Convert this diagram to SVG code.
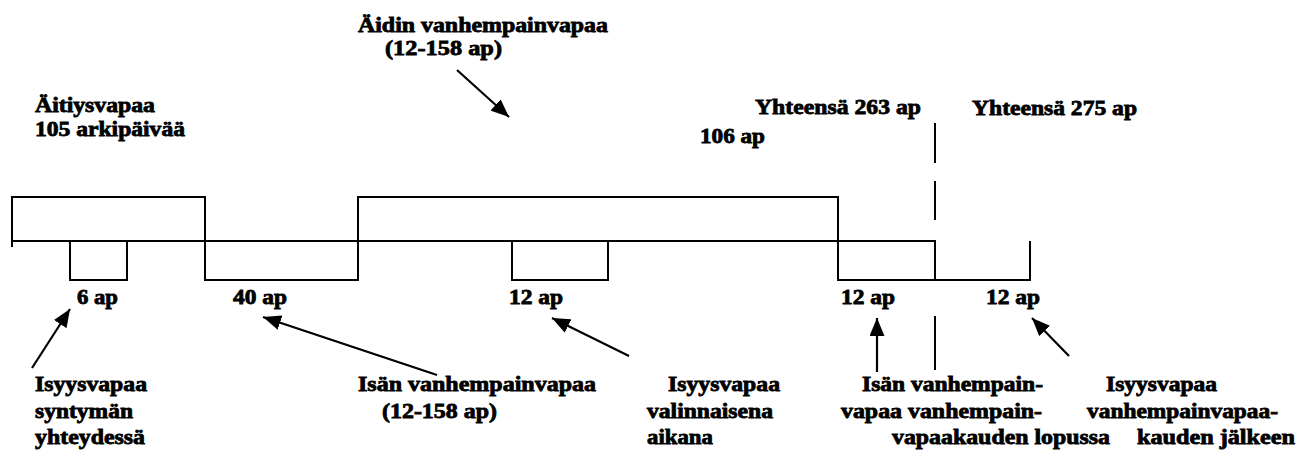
<svg xmlns="http://www.w3.org/2000/svg" width="1311" height="450" viewBox="0 0 1311 450">
<style>
  .t { font-family: "Liberation Serif", "Times New Roman", "DejaVu Serif", serif; font-weight: 700; font-size: 21px; fill: #000; stroke: #000; stroke-width: 0.8; }
  .ln { fill: none; stroke: #000; stroke-width: 2; }
  .ar { fill: none; stroke: #000; stroke-width: 2.2; marker-end: url(#ah); }
</style>
<defs>
  <marker id="ah" markerUnits="userSpaceOnUse" markerWidth="19" markerHeight="15" refX="18" refY="7.5" orient="auto">
    <path d="M0,0 L18,7.5 L0,15 z" fill="#000"/>
  </marker>
</defs>
<rect width="1311" height="450" fill="#fff"/>

<g id="timeline">
  <path class="ln" d="M12,247 L12,197 L205,197 L205,280 L358,280 L358,197 L838,197 L838,280 L935,280 L1030,280 L1030,241"/>
  <path class="ln" d="M12,241 L935,241 L935,280"/>
  <path class="ln" d="M70,241 L70,280 L127,280 L127,241"/>
  <path class="ln" d="M512,241 L512,280 L608,280 L608,241"/>
  <path class="ln" d="M935,123 L935,220" stroke-dasharray="40 18"/>
  <path class="ln" d="M935,316 L935,370"/>
</g>

<g id="aitiysvapaa">
  <text class="t" x="35" y="112" textLength="120" lengthAdjust="spacingAndGlyphs">Äitiysvapaa</text>
  <text class="t" x="35" y="136" textLength="150" lengthAdjust="spacingAndGlyphs">105 arkipäivää</text>
</g>
<g id="aidin-vanhempainvapaa">
  <text class="t" x="358" y="32" textLength="250" lengthAdjust="spacingAndGlyphs">Äidin vanhempainvapaa</text>
  <text class="t" x="385" y="55" textLength="117" lengthAdjust="spacingAndGlyphs">(12-158 ap)</text>
</g>
<g id="yhteensa-263">
  <text class="t" x="755" y="114" textLength="166" lengthAdjust="spacingAndGlyphs">Yhteensä 263 ap</text>
</g>
<g id="ap106">
  <text class="t" x="700" y="143" textLength="65" lengthAdjust="spacingAndGlyphs">106 ap</text>
</g>
<g id="yhteensa-275">
  <text class="t" x="972" y="115" textLength="165" lengthAdjust="spacingAndGlyphs">Yhteensä 275 ap</text>
</g>

<g id="amounts">
  <text class="t" x="77" y="304" textLength="41" lengthAdjust="spacingAndGlyphs">6 ap</text>
  <text class="t" x="233" y="304" textLength="54" lengthAdjust="spacingAndGlyphs">40 ap</text>
  <text class="t" x="509" y="304" textLength="54" lengthAdjust="spacingAndGlyphs">12 ap</text>
  <text class="t" x="841" y="304" textLength="54" lengthAdjust="spacingAndGlyphs">12 ap</text>
  <text class="t" x="986" y="304" textLength="54" lengthAdjust="spacingAndGlyphs">12 ap</text>
</g>

<g id="isyysvapaa-syntyma">
  <text class="t" x="35" y="391" textLength="112" lengthAdjust="spacingAndGlyphs">Isyysvapaa</text>
  <text class="t" x="35" y="418" textLength="98" lengthAdjust="spacingAndGlyphs">syntymän</text>
  <text class="t" x="35" y="444" textLength="110" lengthAdjust="spacingAndGlyphs">yhteydessä</text>
</g>
<g id="isan-vanhempainvapaa">
  <text class="t" x="358" y="391" textLength="238" lengthAdjust="spacingAndGlyphs">Isän vanhempainvapaa</text>
  <text class="t" x="382" y="418" textLength="115" lengthAdjust="spacingAndGlyphs">(12-158 ap)</text>
</g>
<g id="isyysvapaa-valinnainen">
  <text class="t" x="668" y="391" textLength="112" lengthAdjust="spacingAndGlyphs">Isyysvapaa</text>
  <text class="t" x="647" y="418" textLength="126" lengthAdjust="spacingAndGlyphs">valinnaisena</text>
  <text class="t" x="647" y="444" textLength="66" lengthAdjust="spacingAndGlyphs">aikana</text>
</g>
<g id="isan-lopussa">
  <text class="t" x="862" y="391" textLength="181" lengthAdjust="spacingAndGlyphs">Isän vanhempain-</text>
  <text class="t" x="841" y="418" textLength="201" lengthAdjust="spacingAndGlyphs">vapaa vanhempain-</text>
  <text class="t" x="892" y="444" textLength="218" lengthAdjust="spacingAndGlyphs">vapaakauden lopussa</text>
</g>
<g id="isyysvapaa-jalkeen">
  <text class="t" x="1106" y="391" textLength="111" lengthAdjust="spacingAndGlyphs">Isyysvapaa</text>
  <text class="t" x="1087" y="418" textLength="191" lengthAdjust="spacingAndGlyphs">vanhempainvapaa-</text>
  <text class="t" x="1137" y="444" textLength="158" lengthAdjust="spacingAndGlyphs">kauden jälkeen</text>
</g>

<g id="connectors">
  <line class="ar" x1="457" y1="70" x2="509" y2="117"/>
  <line class="ar" x1="32" y1="368" x2="70" y2="309"/>
  <line class="ar" x1="437" y1="375" x2="263" y2="317"/>
  <line class="ar" x1="629" y1="356" x2="552" y2="318"/>
  <line class="ar" x1="877" y1="372" x2="877" y2="318"/>
  <line class="ar" x1="1069" y1="356" x2="1032" y2="318"/>
</g>
</svg>
